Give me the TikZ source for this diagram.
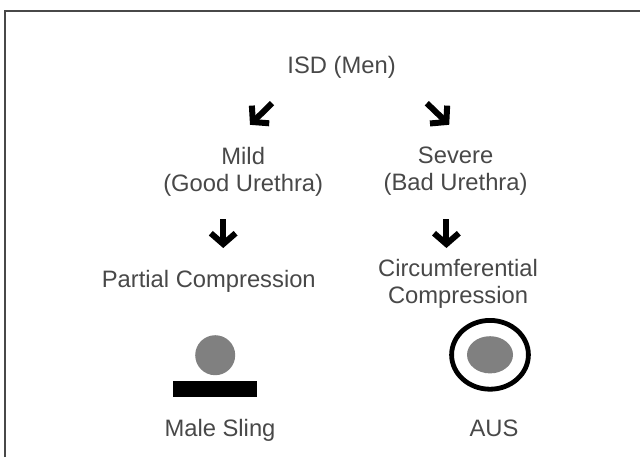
\documentclass[tikz,border=0pt]{standalone}
\usepackage{fontspec}
\setmainfont{Liberation Sans}
\usepackage{xcolor}
\definecolor{inkgrey}{HTML}{484848}
\definecolor{bulkgrey}{HTML}{808080}
\usetikzlibrary{arrows.meta,positioning,shapes.geometric}
\tikzset{
  lbl/.style    ={font=\fontsize{16.9}{19.2}\selectfont,text=inkgrey,align=center,inner sep=0pt},
  flow/.style   ={-{Straight Barb[length=2.7mm,width=6.2mm]},draw=black,line width=1.5mm,line join=miter},
  bulk/.style   ={fill=bulkgrey,draw=none,inner sep=0pt},
}
\begin{document}
\begin{tikzpicture}[x=1cm,y=1cm]
\useasboundingbox (0,0) rectangle (16,-11.425);
% frame
\draw[draw=inkgrey,line width=0.5mm] (0.13,-11.425) -- (0.13,-0.28) -- (16,-0.28);

%================= labels
\node[lbl] (isd) at (8.54,-1.69) {ISD (Men)};
\node[lbl] (mild) at (6.08,-4.29) {Mild\\(Good Urethra)};
\node[lbl] (severe) at (11.39,-4.29) {Severe\\(Bad Urethra)};
\node[lbl] (partial) at (5.22,-7.03) {Partial Compression};
\node[lbl] (circ) at (11.45,-7.1) {Circumferential\\Compression};
\node[lbl] (slinglbl) at (5.5,-10.75) {Male Sling};
\node[lbl] (auslbl) at (12.35,-10.7) {AUS};

%================= arrows
\coordinate (a1) at (6.8,-2.58);  \coordinate (a2) at (6.25,-3.12);
\coordinate (b1) at (10.67,-2.58); \coordinate (b2) at (11.23,-3.12);
\coordinate (c1) at (5.58,-5.48); \coordinate (c2) at (5.58,-6.2);
\coordinate (d1) at (11.16,-5.48); \coordinate (d2) at (11.16,-6.2);
\draw[flow] (a1) -- (a2);
\draw[flow] (b1) -- (b2);
\draw[flow] (c1) -- (c2);
\draw[flow] (d1) -- (d2);

%================= male sling
\node[bulk,circle,minimum size=1cm] (urethraA) at (5.38,-8.88) {};
\node[fill=black,inner sep=0pt,minimum width=2.1cm,minimum height=0.4cm] (sling) at (5.38,-9.73) {};

%================= AUS
\node[draw=black,line width=1.2mm,ellipse,inner sep=0pt,minimum width=1.92cm,minimum height=1.72cm] (cuff) at (12.25,-8.87) {};
\node[bulk,ellipse,minimum width=1.15cm,minimum height=0.93cm] (urethraB) at (12.25,-8.87) {};
\end{tikzpicture}
\end{document}
